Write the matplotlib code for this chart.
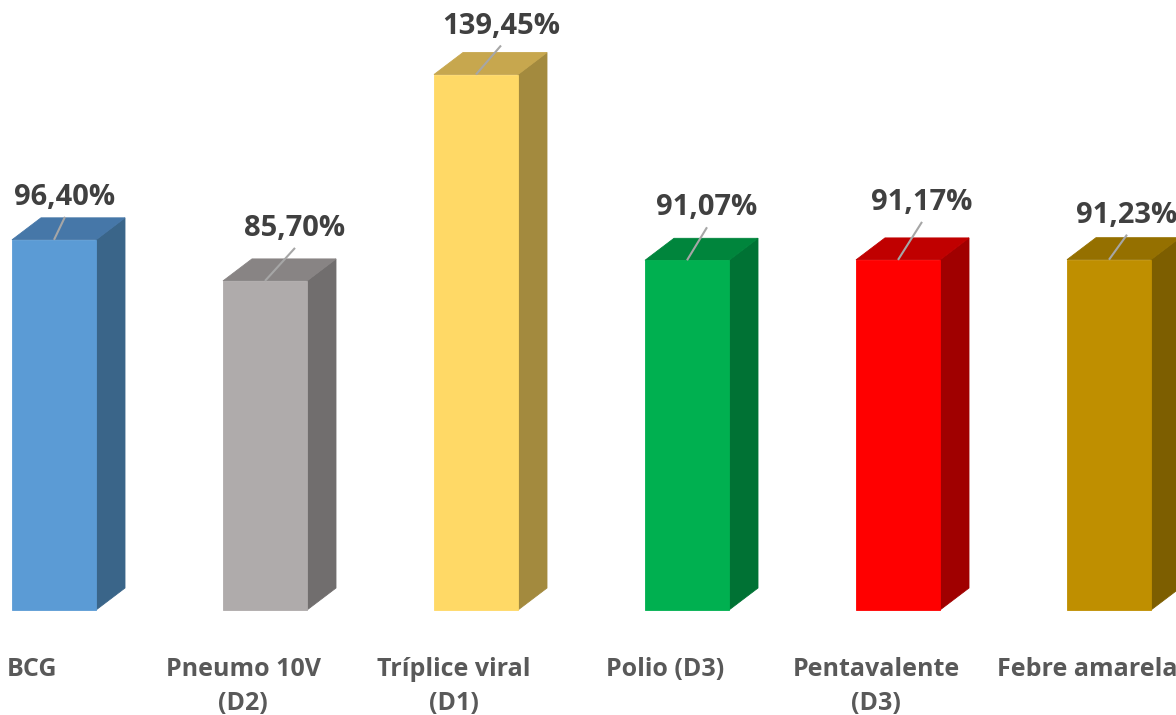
#!/usr/bin/env python3
"""Vaccination coverage by vaccine, drawn as Excel-style 3D bars."""

import matplotlib

matplotlib.use("Agg")
import matplotlib.pyplot as plt
from matplotlib.patches import Polygon, Rectangle

# --- data -----------------------------------------------------------------
categories = ["BCG", "Pneumo 10V\n(D2)", "Tríplice viral\n(D1)",
              "Polio (D3)", "Pentavalente\n(D3)", "Febre amarela"]
coverage = [96.40, 85.70, 139.45, 91.07, 91.17, 91.23]

front_colors = ["#5B9BD5", "#AFABAB", "#FFD966", "#00B050", "#FF0000", "#BF8F00"]
top_colors = ["#4677A8", "#888484", "#C7A74E", "#00853C", "#C00000", "#957000"]
side_colors = ["#3A6589", "#716E6E", "#A38A3E", "#007234", "#A00000", "#7D5E00"]

# manual placement of the data labels (pixels from bar top-front centre)
label_dx_px = [11, 30, 25, 20, 24, 18]
label_rise_px = [35, 45, 41, 45, 50, 37]

# --- layout (pixel scale of the reference) --------------------------------
W, H = 1176, 715
PX_PER_CAT = 211.0     # distance between bars
PX_PER_PCT = 3.84      # vertical scale
X0_PX, Y0_PX = 54, 610  # centre of first bar / baseline
ux = 1 / PX_PER_CAT
uy = 1 / PX_PER_PCT

bar_w = 84 * ux
depth_x = 29 * ux
depth_y = 22 * uy

LABEL_COLOR = "#404040"
CAT_COLOR = "#595959"
FONT = ["Open Sans", "DejaVu Sans"]

fig = plt.figure(figsize=(W / 100, H / 100), dpi=100)
ax = fig.add_axes([0, 0, 1, 1])
ax.set_xlim(-X0_PX * ux, (W - X0_PX) * ux)
ax.set_ylim((Y0_PX - H) * uy, Y0_PX * uy)
ax.axis("off")

for i, (cat, val) in enumerate(zip(categories, coverage)):
    left, right = i - bar_w / 2, i + bar_w / 2
    # right-hand side face
    ax.add_patch(Polygon([(right, 0), (right + depth_x, depth_y),
                          (right + depth_x, val + depth_y), (right, val)],
                         closed=True, facecolor=side_colors[i],
                         edgecolor=side_colors[i], linewidth=0.6, zorder=2))
    # top face
    ax.add_patch(Polygon([(left, val), (right, val),
                          (right + depth_x, val + depth_y), (left + depth_x, val + depth_y)],
                         closed=True, facecolor=top_colors[i],
                         edgecolor=top_colors[i], linewidth=0.6, zorder=2))
    # front face
    ax.add_patch(Rectangle((left, 0), bar_w, val, facecolor=front_colors[i],
                           edgecolor=front_colors[i], linewidth=0.6, zorder=3))

    # data label with leader line
    lx = i + label_dx_px[i] * ux
    ly = val + label_rise_px[i] * uy
    ax.plot([i, lx], [val, ly - 12 * uy], color="#A6A6A6", linewidth=1.5,
            solid_capstyle="butt", zorder=4)
    ax.text(lx, ly, f"{val:.2f}%".replace(".", ","), ha="center", va="baseline",
            fontsize=21, fontweight="bold", color=LABEL_COLOR, family=FONT, zorder=5)

    # category label, one line at a time
    cx = i - 22 * ux
    for k, line in enumerate(cat.split("\n")):
        ax.text(cx, (Y0_PX - 676 - 34 * k) * uy, line, ha="center", va="baseline",
                fontsize=18, fontweight="bold", color=CAT_COLOR, family=FONT)

fig.savefig("out.png", dpi=100, facecolor="white")
